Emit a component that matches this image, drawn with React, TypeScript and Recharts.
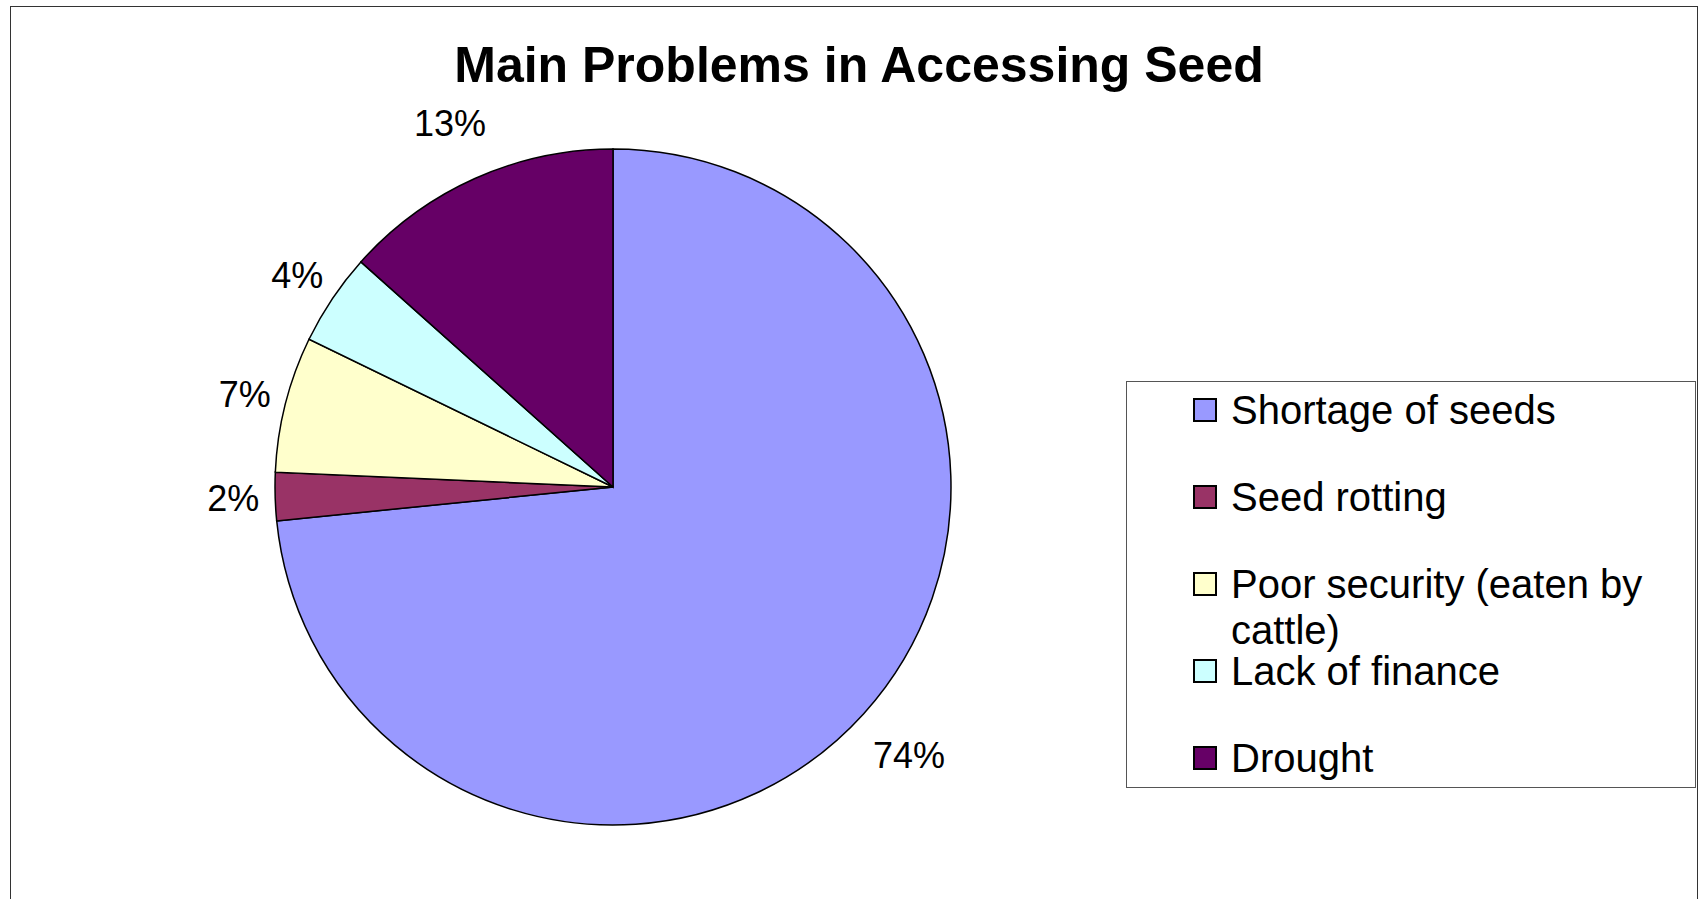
import React from "react";
import { PieChart, Pie, Cell, Legend } from "recharts";

// slice sizes (percent of the whole)
const problems = ["Shortage of seeds", "Seed rotting", "Poor security (eaten by cattle)", "Lack of finance", "Drought"];
const shares = [73.4, 2.3, 6.5, 4.4, 13.4];
const shareLabels = ["74%", "2%", "7%", "4%", "13%"];
const sliceColors = ["#9999FF", "#993366", "#FFFFCC", "#CCFFFF", "#660066"];

const data = problems.map((name, i) => ({ name, value: shares[i] }));

const FONT = "'Liberation Sans', Arial, Helvetica, sans-serif";
const RAD = Math.PI / 180;

const renderLabel = (props: any) => {
  const { cx, cy, midAngle, outerRadius, index } = props;
  const text = shareLabels[index];
  const r = outerRadius + 42 + (text.length - 2) * 19;
  const x = cx + r * Math.cos(-midAngle * RAD);
  const y = cy + r * Math.sin(-midAngle * RAD);
  return (
    <text x={x} y={y} dy="0.36em" textAnchor="middle" fill="#000" fontSize={36} fontFamily={FONT}>
      {text}
    </text>
  );
};

const renderLegend = () => (
  <div
    style={{
      width: 570,
      height: 407,
      boxSizing: "border-box",
      border: "1px solid #555",
      background: "#fff",
      paddingTop: 5,
      paddingLeft: 66,
      fontFamily: FONT,
      fontSize: 40,
      lineHeight: "46px",
      color: "#000",
    }}
  >
    {problems.map((name, i) => (
      <div key={name} style={{ display: "flex", alignItems: "flex-start", height: 87 }}>
        <div
          style={{
            width: 24,
            height: 24,
            boxSizing: "border-box",
            border: "2px solid #000",
            background: sliceColors[i],
            marginTop: 11,
            marginRight: 14,
            flexShrink: 0,
          }}
        />
        <div style={{ width: 455 }}>{name}</div>
      </div>
    ))}
  </div>
);

export default function App() {
  return (
    <div
      style={{
        position: "absolute",
        left: 10,
        top: 6,
        width: 1686,
        height: 900,
        border: "1px solid #333",
        background: "#fff",
      }}
    >
      <div
        style={{
          position: "absolute",
          left: 0,
          width: 1696,
          top: 33,
          textAlign: "center",
          fontFamily: FONT,
          fontWeight: "bold",
          fontSize: 50,
          lineHeight: "50px",
          color: "#000",
          zIndex: 2,
        }}
      >
        Main Problems in Accessing Seed
      </div>
      <PieChart width={1686} height={892} margin={{ top: 0, right: 0, bottom: 0, left: 0 }}>
        <Pie
          data={data}
          dataKey="value"
          nameKey="name"
          cx={602}
          cy={480}
          outerRadius={338}
          startAngle={90}
          endAngle={-270}
          stroke="#000"
          strokeWidth={1.5}
          label={renderLabel}
          labelLine={false}
          isAnimationActive={false}
        >
          {data.map((d, i) => (
            <Cell key={d.name} fill={sliceColors[i]} />
          ))}
        </Pie>
        <Legend content={renderLegend} wrapperStyle={{ left: 1115, top: 374, width: 570, height: 407 }} />
      </PieChart>
    </div>
  );
}
